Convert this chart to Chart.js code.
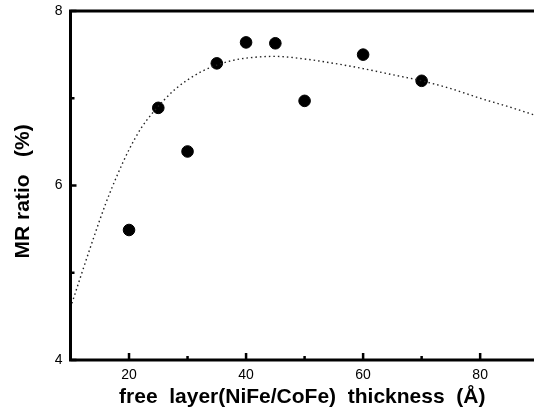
<!DOCTYPE html>
<html>
<head>
<meta charset="utf-8">
<script src="https://cdn.jsdelivr.net/npm/chart.js@4/dist/chart.umd.min.js"></script>
<style>
	html, body { margin: 0; padding: 0; background: #fff; }
	#wrap { width: 534px; height: 412px; }
</style>
</head>
<body>
<div id="wrap"><canvas id="mr-chart"></canvas></div>
<script>
( function () {
	'use strict';

	// measured points
	var thickness = [ 20, 25, 30, 35, 40, 45, 50, 60, 70 ];
	var mrRatio = [ 5.49, 6.89, 6.39, 7.40, 7.64, 7.63, 6.97, 7.50, 7.20 ];

	// dotted fit curve
	var fitX = [ 10, 12, 14, 16, 18, 20, 22, 24, 26, 28, 30, 32.5, 35, 37.5, 40, 45, 50, 55, 60, 65, 70, 75, 80, 85, 89.2 ];
	var fitY = [ 4.60, 5.01, 5.41, 5.79, 6.12, 6.41, 6.65, 6.83, 6.98, 7.11, 7.21, 7.31, 7.38, 7.43, 7.46, 7.48, 7.45, 7.40, 7.34, 7.27, 7.20, 7.11, 7.00, 6.90, 6.81 ];

	var xTicks = [ 20, 40, 60, 80 ];
	var xMinor = [ 30, 50, 70 ];
	var yTicks = [ 4, 6, 8 ];
	var yMinor = [ 5, 7 ];

	var font = 'Arial, "Liberation Sans", sans-serif';

	function pairs( xs, ys ) {
		return xs.map( function ( x, i ) { return { x: x, y: ys[ i ] }; } );
	}

	// frame on left, top, bottom plus inward tick marks
	var framePlugin = {
		id: 'frame',
		afterDraw: function ( chart ) {
			var ctx = chart.ctx;
			var a = chart.chartArea;
			var xs = chart.scales.x;
			var ys = chart.scales.y;
			ctx.save();
			ctx.strokeStyle = '#000';
			ctx.lineWidth = 3;
			ctx.beginPath();
			ctx.moveTo( a.right, a.top );
			ctx.lineTo( a.left, a.top );
			ctx.lineTo( a.left, a.bottom );
			ctx.lineTo( a.right, a.bottom );
			ctx.stroke();

			ctx.lineWidth = 2.5;
			ctx.beginPath();
			xTicks.forEach( function ( v ) {
				var px = xs.getPixelForValue( v );
				ctx.moveTo( px, a.bottom );
				ctx.lineTo( px, a.bottom - 7 );
			} );
			xMinor.forEach( function ( v ) {
				var px = xs.getPixelForValue( v );
				ctx.moveTo( px, a.bottom );
				ctx.lineTo( px, a.bottom - 4 );
			} );
			yTicks.forEach( function ( v ) {
				var py = ys.getPixelForValue( v );
				ctx.moveTo( a.left, py );
				ctx.lineTo( a.left + 6, py );
			} );
			yMinor.forEach( function ( v ) {
				var py = ys.getPixelForValue( v );
				ctx.moveTo( a.left, py );
				ctx.lineTo( a.left + 4, py );
			} );
			ctx.stroke();
			ctx.restore();
		},
	};

	new Chart( document.getElementById( 'mr-chart' ).getContext( '2d' ), {
		type: 'scatter',
		data: {
			datasets: [ {
				label: 'fit',
				data: pairs( fitX, fitY ),
				showLine: true,
				borderColor: '#222',
				borderWidth: 1.4,
				borderDash: [ 1.5, 3 ],
				pointRadius: 0,
				cubicInterpolationMode: 'monotone',
				fill: false,
			}, {
				label: 'MR ratio',
				data: pairs( thickness, mrRatio ),
				backgroundColor: '#000',
				borderColor: '#000',
				pointRadius: 5.8,
				pointHoverRadius: 5.8,
			} ],
		},
		options: {
			responsive: true,
			maintainAspectRatio: false,
			animation: false,
			layout: { autoPadding: false, padding: { top: 11, right: 0, bottom: 0, left: 0 } },
			plugins: {
				legend: { display: false },
				tooltip: { enabled: false },
			},
			scales: {
				x: {
					type: 'linear',
					min: 10,
					max: 89.2,
					afterBuildTicks: function ( s ) { s.ticks = xTicks.map( function ( v ) { return { value: v }; } ); },
					afterFit: function ( s ) {
						s.height = 52;
						s.paddingLeft = 0;
						s.paddingRight = 0;
					},
					grid: { display: false, drawTicks: false },
					border: { display: false },
					ticks: { color: '#000', padding: 7, font: { family: font, size: 14 } },
					title: {
						display: true,
						text: 'free  layer(NiFe/CoFe)  thickness  (Å)',
						color: '#000',
						padding: { top: 0, bottom: 2 },
						font: { family: font, size: 21, weight: 'bold' },
					},
				},
				y: {
					min: 4,
					max: 8,
					afterBuildTicks: function ( s ) { s.ticks = yTicks.map( function ( v ) { return { value: v }; } ); },
					afterFit: function ( s ) {
						s.width = 70.5;
						s.paddingTop = 0;
						s.paddingBottom = 0;
					},
					grid: { display: false, drawTicks: false },
					border: { display: false },
					ticks: { color: '#000', padding: 8, font: { family: font, size: 14 } },
					title: {
						display: true,
						text: 'MR ratio   (%)  ',
						color: '#000',
						padding: { top: 11, bottom: 0 },
						font: { family: font, size: 21, weight: 'bold' },
					},
				},
			},
		},
		plugins: [ framePlugin ],
	} );
} )();
</script>
</body>
</html>
